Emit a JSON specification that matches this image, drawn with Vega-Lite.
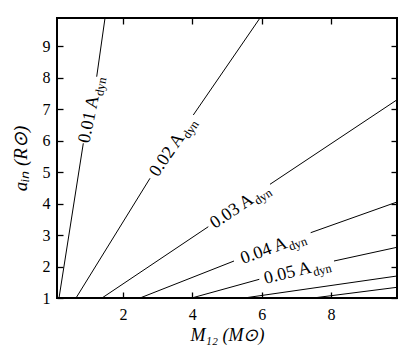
{
  "$schema": "https://vega.github.io/schema/vega-lite/v6.json",
  "width": 340,
  "height": 280,
  "autosize": {"type": "none"},
  "padding": {"left": 57, "top": 18, "right": 18, "bottom": 65},
  "background": "white",
  "config": {
    "view": {"stroke": "black", "strokeWidth": 2},
    "axis": {
      "domain": false,
      "grid": false,
      "ticks": true,
      "tickColor": "black",
      "tickSize": 6,
      "tickWidth": 1.3,
      "labelFont": "Liberation Serif",
      "labelFontSize": 16,
      "labelColor": "black",
      "titleFont": "Liberation Serif",
      "titleFontSize": 18,
      "titleFontWeight": "normal",
      "titleFontStyle": "italic",
      "titleColor": "black"
    },
    "text": {"font": "Liberation Serif", "color": "black"}
  },
  "datasets": {
    "lines": [
      {"lvl": "0.01", "seg": "a", "m": 0.158, "a": 1},
      {"lvl": "0.01", "seg": "a", "m": 0.858, "a": 5.917},
      {"lvl": "0.01", "seg": "b", "m": 1.244, "a": 8.034},
      {"lvl": "0.01", "seg": "b", "m": 1.484, "a": 9.9},
      {"lvl": "0.02", "seg": "a", "m": 0.648, "a": 1},
      {"lvl": "0.02", "seg": "a", "m": 2.781, "a": 4.805},
      {"lvl": "0.02", "seg": "b", "m": 4.029, "a": 6.817},
      {"lvl": "0.02", "seg": "b", "m": 5.951, "a": 9.9},
      {"lvl": "0.03", "seg": "a", "m": 1.397, "a": 1},
      {"lvl": "0.03", "seg": "a", "m": 4.461, "a": 3.266},
      {"lvl": "0.03", "seg": "b", "m": 6.239, "a": 4.614},
      {"lvl": "0.03", "seg": "b", "m": 9.9, "a": 7.3},
      {"lvl": "0.04", "seg": "a", "m": 2.492, "a": 1},
      {"lvl": "0.04", "seg": "a", "m": 5.202, "a": 2.176},
      {"lvl": "0.04", "seg": "b", "m": 7.412, "a": 3.076},
      {"lvl": "0.04", "seg": "b", "m": 9.9, "a": 4.051},
      {"lvl": "0.05", "seg": "a", "m": 3.982, "a": 1},
      {"lvl": "0.05", "seg": "a", "m": 5.931, "a": 1.594},
      {"lvl": "0.05", "seg": "b", "m": 8.084, "a": 2.176},
      {"lvl": "0.05", "seg": "b", "m": 9.9, "a": 2.612},
      {"lvl": "0.06", "seg": "a", "m": 5.49, "a": 1},
      {"lvl": "0.06", "seg": "a", "m": 9.9, "a": 1.699},
      {"lvl": "0.07", "seg": "a", "m": 7.479, "a": 1},
      {"lvl": "0.07", "seg": "a", "m": 9.9, "a": 1.34}
    ],
    "labels": [
      {"lvl": "0.01", "txt": "0.01 A", "sub": "dyn", "m": 1.051, "a": 6.98},
      {"lvl": "0.02", "txt": "0.02 A", "sub": "dyn", "m": 3.405, "a": 5.81},
      {"lvl": "0.03", "txt": "0.03 A", "sub": "dyn", "m": 5.35, "a": 3.94},
      {"lvl": "0.04", "txt": "0.04 A", "sub": "dyn", "m": 6.307, "a": 2.626},
      {"lvl": "0.05", "txt": "0.05 A", "sub": "dyn", "m": 7.007, "a": 1.885}
    ]
  },
  "resolve": {"axis": {"x": "independent", "y": "independent"}},
  "layer": [
    {
      "data": {"name": "lines"},
      "mark": {"type": "line", "color": "black", "strokeWidth": 1, "clip": true},
      "encoding": {
        "x": {"field": "m", "type": "quantitative", "scale": {"domain": [0.1, 9.9], "nice": false, "zero": false},
              "axis": {"orient": "bottom", "values": [2, 4, 6, 8], "offset": -6, "labelPadding": 8, "title": "M₁₂ (M⊙)", "titlePadding": 4}},
        "y": {"field": "a", "type": "quantitative", "scale": {"domain": [1, 9.9], "nice": false, "zero": false},
              "axis": {"orient": "left", "values": [1, 2, 3, 4, 5, 6, 7, 8, 9], "offset": -6, "labelPadding": 7, "title": "aᵢₙ  (R⊙)", "titlePadding": 12, "titleFontSize": 19}},
        "detail": [{"field": "lvl"}, {"field": "seg"}]
      }
    },
    {
      "data": {"name": "lines"},
      "mark": {"type": "point", "opacity": 0},
      "encoding": {
        "x": {"field": "m", "type": "quantitative", "scale": {"domain": [0.1, 9.9], "nice": false, "zero": false},
              "axis": {"orient": "top", "values": [2, 4, 6, 8], "offset": -6, "labels": false, "title": null}},
        "y": {"field": "a", "type": "quantitative", "scale": {"domain": [1, 9.9], "nice": false, "zero": false},
              "axis": {"orient": "right", "values": [1, 2, 3, 4, 5, 6, 7, 8, 9], "offset": -6, "labels": false, "title": null}}
      }
    },
    {"data": {"name": "labels"}, "transform": [{"filter": "datum.lvl == '0.01'"}],
     "mark": {"type": "text", "angle": 281.4, "align": "right", "baseline": "alphabetic", "dx": 14.6, "dy": 6, "fontSize": 18},
     "encoding": {"x": {"field": "m", "type": "quantitative", "axis": null, "scale": {"domain": [0.1, 9.9], "nice": false, "zero": false}},
                  "y": {"field": "a", "type": "quantitative", "axis": null, "scale": {"domain": [1, 9.9], "nice": false, "zero": false}},
                  "text": {"field": "txt"}}},
    {"data": {"name": "labels"}, "transform": [{"filter": "datum.lvl == '0.01'"}],
     "mark": {"type": "text", "angle": 281.4, "align": "left", "baseline": "alphabetic", "dx": 15.6, "dy": 10, "fontSize": 12.5},
     "encoding": {"x": {"field": "m", "type": "quantitative", "axis": null, "scale": {"domain": [0.1, 9.9], "nice": false, "zero": false}},
                  "y": {"field": "a", "type": "quantitative", "axis": null, "scale": {"domain": [1, 9.9], "nice": false, "zero": false}},
                  "text": {"field": "sub"}}},
    {"data": {"name": "labels"}, "transform": [{"filter": "datum.lvl == '0.02'"}],
     "mark": {"type": "text", "angle": 304.4, "align": "right", "baseline": "alphabetic", "dx": 14.6, "dy": 6, "fontSize": 18},
     "encoding": {"x": {"field": "m", "type": "quantitative", "axis": null, "scale": {"domain": [0.1, 9.9], "nice": false, "zero": false}},
                  "y": {"field": "a", "type": "quantitative", "axis": null, "scale": {"domain": [1, 9.9], "nice": false, "zero": false}},
                  "text": {"field": "txt"}}},
    {"data": {"name": "labels"}, "transform": [{"filter": "datum.lvl == '0.02'"}],
     "mark": {"type": "text", "angle": 304.4, "align": "left", "baseline": "alphabetic", "dx": 15.6, "dy": 10, "fontSize": 12.5},
     "encoding": {"x": {"field": "m", "type": "quantitative", "axis": null, "scale": {"domain": [0.1, 9.9], "nice": false, "zero": false}},
                  "y": {"field": "a", "type": "quantitative", "axis": null, "scale": {"domain": [1, 9.9], "nice": false, "zero": false}},
                  "text": {"field": "sub"}}},
    {"data": {"name": "labels"}, "transform": [{"filter": "datum.lvl == '0.03'"}],
     "mark": {"type": "text", "angle": 326.3, "align": "right", "baseline": "alphabetic", "dx": 14.6, "dy": 6, "fontSize": 18},
     "encoding": {"x": {"field": "m", "type": "quantitative", "axis": null, "scale": {"domain": [0.1, 9.9], "nice": false, "zero": false}},
                  "y": {"field": "a", "type": "quantitative", "axis": null, "scale": {"domain": [1, 9.9], "nice": false, "zero": false}},
                  "text": {"field": "txt"}}},
    {"data": {"name": "labels"}, "transform": [{"filter": "datum.lvl == '0.03'"}],
     "mark": {"type": "text", "angle": 326.3, "align": "left", "baseline": "alphabetic", "dx": 15.6, "dy": 10, "fontSize": 12.5},
     "encoding": {"x": {"field": "m", "type": "quantitative", "axis": null, "scale": {"domain": [0.1, 9.9], "nice": false, "zero": false}},
                  "y": {"field": "a", "type": "quantitative", "axis": null, "scale": {"domain": [1, 9.9], "nice": false, "zero": false}},
                  "text": {"field": "sub"}}},
    {"data": {"name": "labels"}, "transform": [{"filter": "datum.lvl == '0.04'"}],
     "mark": {"type": "text", "angle": 339.7, "align": "right", "baseline": "alphabetic", "dx": 14.6, "dy": 6, "fontSize": 18},
     "encoding": {"x": {"field": "m", "type": "quantitative", "axis": null, "scale": {"domain": [0.1, 9.9], "nice": false, "zero": false}},
                  "y": {"field": "a", "type": "quantitative", "axis": null, "scale": {"domain": [1, 9.9], "nice": false, "zero": false}},
                  "text": {"field": "txt"}}},
    {"data": {"name": "labels"}, "transform": [{"filter": "datum.lvl == '0.04'"}],
     "mark": {"type": "text", "angle": 339.7, "align": "left", "baseline": "alphabetic", "dx": 15.6, "dy": 10, "fontSize": 12.5},
     "encoding": {"x": {"field": "m", "type": "quantitative", "axis": null, "scale": {"domain": [0.1, 9.9], "nice": false, "zero": false}},
                  "y": {"field": "a", "type": "quantitative", "axis": null, "scale": {"domain": [1, 9.9], "nice": false, "zero": false}},
                  "text": {"field": "sub"}}},
    {"data": {"name": "labels"}, "transform": [{"filter": "datum.lvl == '0.05'"}],
     "mark": {"type": "text", "angle": 346.2, "align": "right", "baseline": "alphabetic", "dx": 14.6, "dy": 6, "fontSize": 18},
     "encoding": {"x": {"field": "m", "type": "quantitative", "axis": null, "scale": {"domain": [0.1, 9.9], "nice": false, "zero": false}},
                  "y": {"field": "a", "type": "quantitative", "axis": null, "scale": {"domain": [1, 9.9], "nice": false, "zero": false}},
                  "text": {"field": "txt"}}},
    {"data": {"name": "labels"}, "transform": [{"filter": "datum.lvl == '0.05'"}],
     "mark": {"type": "text", "angle": 346.2, "align": "left", "baseline": "alphabetic", "dx": 15.6, "dy": 10, "fontSize": 12.5},
     "encoding": {"x": {"field": "m", "type": "quantitative", "axis": null, "scale": {"domain": [0.1, 9.9], "nice": false, "zero": false}},
                  "y": {"field": "a", "type": "quantitative", "axis": null, "scale": {"domain": [1, 9.9], "nice": false, "zero": false}},
                  "text": {"field": "sub"}}}
  ]
}
